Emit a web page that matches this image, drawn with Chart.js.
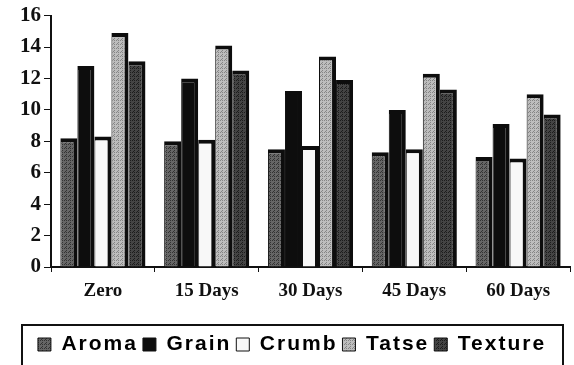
<!DOCTYPE html>
<html>
<head>
<meta charset="utf-8">
<script src="https://cdn.jsdelivr.net/npm/chart.js@4.4.1/dist/chart.umd.min.js"></script>
<style>
  html, body { margin: 0; padding: 0; background: #fff; }
  #wrap { width: 574px; height: 365px; position: relative; }
</style>
</head>
<body>
<div id="wrap"><canvas id="c" width="574" height="365"></canvas></div>
<script>
const categories = ['Zero', '15 Days', '30 Days', '45 Days', '60 Days'];
const aroma   = [8.2, 8.0, 7.5, 7.3, 7.0];
const grain   = [12.8, 12.0, 11.2, 10.0, 9.1];
const crumb   = [8.3, 8.1, 7.7, 7.5, 6.9];
const tatse   = [14.9, 14.1, 13.4, 12.3, 11.0];
const texture = [13.1, 12.5, 11.9, 11.3, 9.7];
const seriesNames = ['Aroma', 'Grain', 'Crumb', 'Tatse', 'Texture'];
const yTicks = [0, 2, 4, 6, 8, 10, 12, 14, 16];

function stipple(base, dot) {
  const c = document.createElement('canvas');
  c.width = 4; c.height = 4;
  const g = c.getContext('2d');
  g.fillStyle = base; g.fillRect(0, 0, 4, 4);
  g.fillStyle = dot;
  g.fillRect(0, 0, 1, 1); g.fillRect(2, 2, 1, 1);
  g.fillRect(2, 0, 1, 1); g.fillRect(1, 3, 1, 1);
  return document.getElementById('c').getContext('2d').createPattern(c, 'repeat');
}

const fills = [
  stipple('#666666', '#333333'),
  '#0d0d0d',
  '#f8f8f8',
  stipple('#bdbdbd', '#858585'),
  stipple('#444444', '#1c1c1c')
];
const values = [aroma, grain, crumb, tatse, texture];

// letter-spaced legend text (wide lettering like the reference)
const legendSpacing = {
  id: 'legendSpacing',
  beforeUpdate(chart) {
    const lg = chart.legend;
    if (!lg || lg._spaced) return;
    lg._spaced = true;
    const wrap = (name) => {
      const orig = lg[name];
      lg[name] = function (...a) {
        const ctx = this.ctx;
        const prev = ctx.letterSpacing;
        ctx.letterSpacing = '2px';
        const r = orig.apply(this, a);
        ctx.letterSpacing = prev;
        return r;
      };
    };
    wrap('fit');
    wrap('draw');
  }
};

const legendBox = {
  id: 'legendBox',
  afterDraw(chart) {
    const ctx = chart.ctx;
    ctx.save();
    ctx.strokeStyle = '#111';
    ctx.lineWidth = 2;
    ctx.strokeRect(22, 325, 541, 60);
    ctx.restore();
  }
};

new Chart(document.getElementById('c'), {
  type: 'bar',
  data: {
    labels: categories,
    datasets: seriesNames.map((n, i) => ({
      label: n,
      data: values[i],
      backgroundColor: fills[i],
      borderColor: '#0d0d0d',
      borderWidth: { top: 4, right: 4, left: 1, bottom: 0 },
      borderSkipped: false,
      barPercentage: 1.0,
      categoryPercentage: 0.82
    }))
  },
  options: {
    responsive: false,
    animation: false,
    devicePixelRatio: 1,
    layout: { padding: { top: 7, right: 4, left: 14, bottom: 0 } },
    plugins: {
      tooltip: { enabled: false },
      legend: {
        position: 'bottom',
        labels: {
          color: '#111',
          font: { family: 'Liberation Sans', weight: 'bold', size: 21 },
          boxWidth: 13,
          boxHeight: 13,
          padding: 5,
          generateLabels(chart) {
            return chart.data.datasets.map((d, i) => ({
              text: d.label,
              fillStyle: d.backgroundColor,
              strokeStyle: '#111',
              lineWidth: 1,
              datasetIndex: i,
              hidden: false
            }));
          }
        }
      }
    },
    scales: {
      x: {
        grid: { display: true, drawOnChartArea: false, drawTicks: true, tickLength: 5, color: '#111', offset: true },
        border: { display: true, color: '#111', width: 2 },
        ticks: {
          color: '#111', padding: 8,
          font: { family: 'Liberation Serif', weight: 'bold', size: 19 }
        },
        afterFit(scale) { scale.height = 62; }
      },
      y: {
        min: 0, max: 16,
        afterBuildTicks(scale) { scale.ticks = yTicks.map(v => ({ value: v })); },
        grid: { display: true, drawOnChartArea: false, drawTicks: true, tickLength: 7, color: '#111' },
        border: { display: true, color: '#111', width: 2 },
        ticks: {
          color: '#111', padding: 3,
          font: { family: 'Liberation Serif', weight: 'bold', size: 21 }
        },
        afterFit(scale) { scale.width = 37; }
      }
    }
  },
  plugins: [legendSpacing, legendBox]
});
</script>
</body>
</html>
